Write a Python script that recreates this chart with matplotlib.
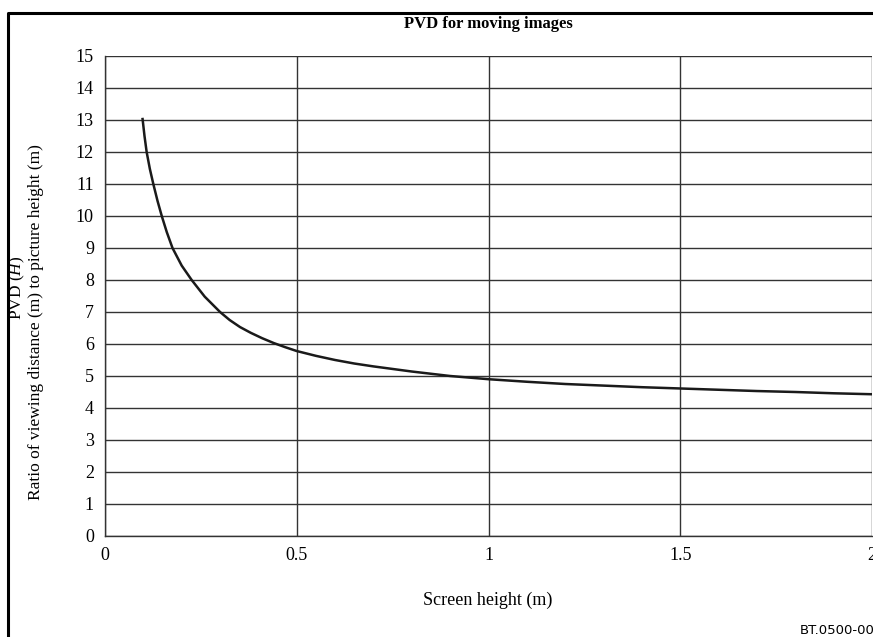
import matplotlib.pyplot as plt
from matplotlib.lines import Line2D

plt.rcParams['font.family'] = 'Liberation Serif'
plt.rcParams['mathtext.fontset'] = 'custom'
plt.rcParams['mathtext.rm'] = 'Liberation Serif'
plt.rcParams['mathtext.it'] = 'Liberation Serif:italic'

# screen height (m) vs PVD (H)
screen_h = [0.098, 0.103, 0.1086, 0.117, 0.126, 0.137, 0.148, 0.161, 0.176,
            0.2, 0.226, 0.26, 0.30, 0.325, 0.352, 0.38, 0.41, 0.44, 0.47, 0.5,
            0.55, 0.6, 0.65, 0.7, 0.75, 0.8, 0.85, 0.9, 0.95, 1.0, 1.1, 1.2,
            1.3, 1.4, 1.5, 1.6, 1.7, 1.8, 1.9, 2.0]
pvd = [13.03, 12.5, 12.0, 11.47, 11.0, 10.47, 10.0, 9.5, 9.0,
       8.45, 8.0, 7.48, 7.0, 6.75, 6.53, 6.35, 6.18, 6.03, 5.9, 5.78,
       5.63, 5.5, 5.39, 5.3, 5.22, 5.14, 5.07, 5.0, 4.95, 4.9, 4.82, 4.75,
       4.7, 4.65, 4.61, 4.57, 4.53, 4.5, 4.46, 4.43]
x_ticks = [0, 0.5, 1, 1.5, 2]
x_labels = ['0', '0.5', '1', '1.5', '2']
y_ticks = list(range(0, 16))

fig = plt.figure(figsize=(8.73, 6.37), dpi=100)
ax = fig.add_axes([105 / 873, 101 / 637, 767 / 873, 480 / 637])

ax.plot(screen_h, pvd, color='#1a1a1a', lw=1.8, zorder=3,
        solid_joinstyle='round')
ax.set_xlim(0, 2)
ax.set_ylim(0, 15)
ax.set_xticks(x_ticks)
ax.set_xticklabels(x_labels)
ax.set_yticks(y_ticks)
ax.tick_params(length=0, labelsize=13, pad=8)
ax.grid(True, color='#333333', lw=1.0)
for s in ['top', 'right']:
    ax.spines[s].set_visible(False)
for s in ['left', 'bottom']:
    ax.spines[s].set_color('#333333')
    ax.spines[s].set_linewidth(1.0)

fig.text(488 / 873, 1 - 24 / 637, 'PVD for moving images', ha='center', va='center',
         fontsize=12, fontweight='bold')
fig.text(488 / 873, 1 - 600 / 637, 'Screen height (m)', ha='center', va='center', fontsize=13)
fig.text(17 / 873, 1 - 288 / 637, r'PVD ($\mathit{H}$)', ha='center', va='center',
         rotation=90, fontsize=12.5)
fig.text(36 / 873, 1 - 322 / 637, 'Ratio of viewing distance (m) to picture height (m)',
         ha='center', va='center', rotation=90, fontsize=12.5)
fig.text(800 / 873, 1 - 630 / 637, 'BT.0500-00', ha='left', va='center',
         fontsize=9.5, family='Liberation Sans Narrow')

# frame around the figure (cut off on the right and bottom)
x0, y0 = 7.5 / 873, 1 - 12.5 / 637
fig.add_artist(Line2D([x0, x0, 1.0], [0.0, y0, y0], color='black', lw=2.2,
                      transform=fig.transFigure))

fig.savefig('out.png', dpi=100)
